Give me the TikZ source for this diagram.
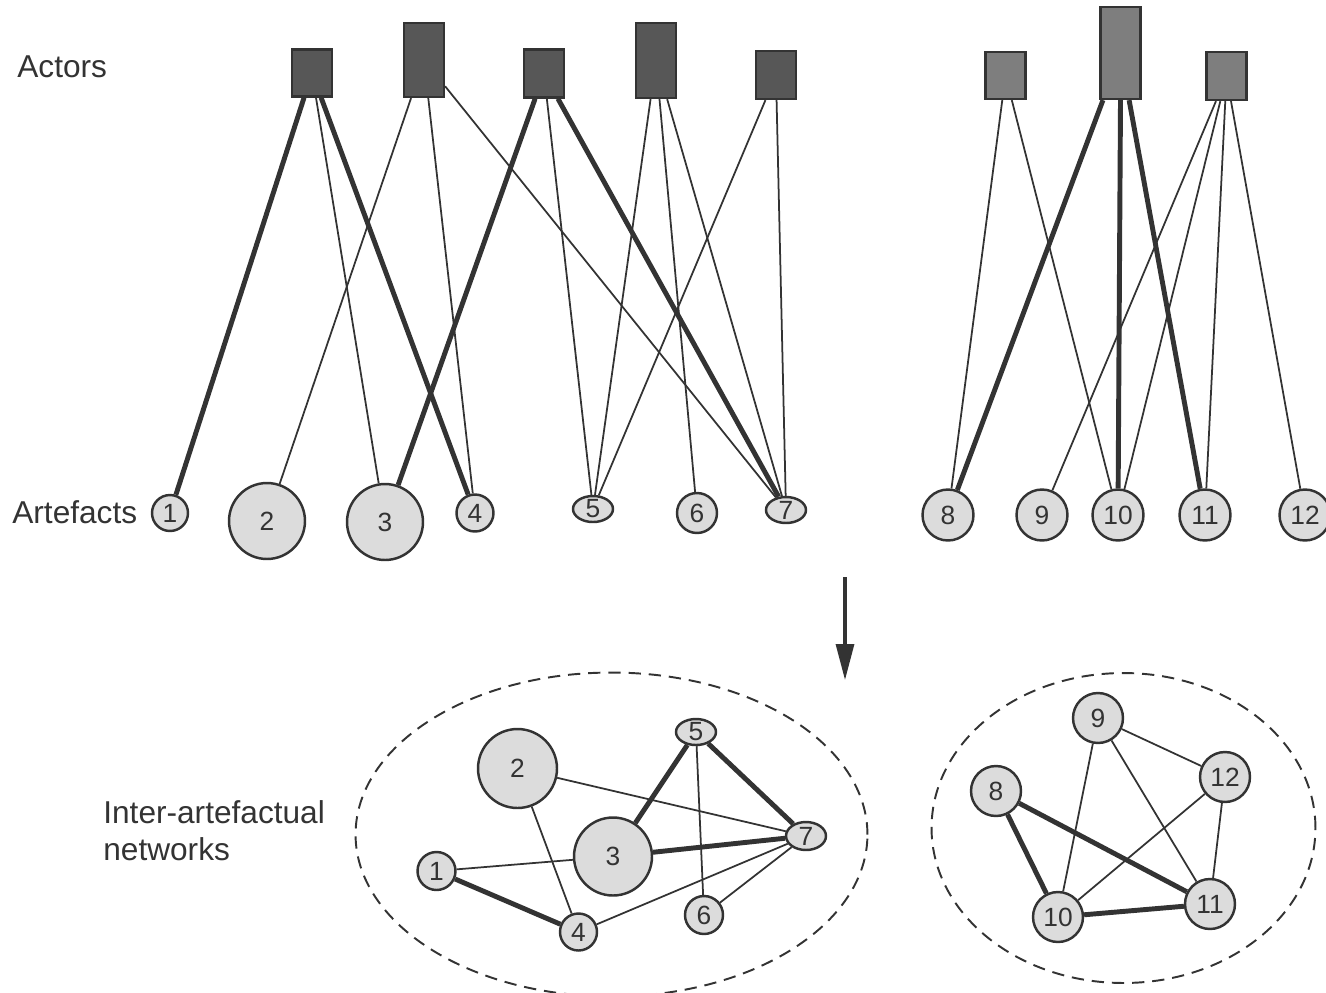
\documentclass[tikz,border=0pt]{standalone}
\usepackage{fontspec}
\setmainfont{Liberation Sans}
\usetikzlibrary{shapes.geometric,arrows.meta}

\definecolor{inkgray}{HTML}{333333}
\definecolor{actordark}{HTML}{575757}
\definecolor{actorlight}{HTML}{7E7E7E}
\definecolor{artfill}{HTML}{DCDCDC}

\tikzset{
  actor/.style={draw=inkgray, line width=1.3pt, inner sep=0pt, minimum width=0.8cm},
  artefact/.style={circle, draw=inkgray, fill=artfill, line width=1.4pt, inner sep=0pt,
    text=inkgray, font=\fontsize{15pt}{15pt}\selectfont},
  flatartefact/.style={artefact, ellipse, minimum width=0.8cm},
  caption/.style={inner sep=0pt, text=inkgray, font=\fontsize{18pt}{21pt}\selectfont},
  link/.style={draw=inkgray, line width=1pt},
  heavylink/.style={draw=inkgray, line width=2.8pt},
  groupline/.style={draw=inkgray, line width=1.1pt, dash pattern=on 7pt off 4.5pt}
}

\begin{document}
\begin{tikzpicture}[x=0.02cm, y=-0.02cm]
\useasboundingbox (0,0) rectangle (1326,992);

% Captions
\node[caption, anchor=base west] (actorstext) at (17,77) {Actors};
\node[caption, anchor=base west] (artefactstext) at (12,523) {Artefacts};
\node[caption, anchor=north west, align=left] (networkstext) at (103,800) {Inter-artefactual\\networks};

% Marking actors by boxes (height = weight)
\node[actor, fill=actordark, minimum height=0.94cm] (a1) at (312,73) {};
\node[actor, fill=actordark, minimum height=1.48cm] (a2) at (424,60) {};
\node[actor, fill=actordark, minimum height=0.96cm] (a3) at (544,73.5) {};
\node[actor, fill=actordark, minimum height=1.50cm] (a4) at (656,60.5) {};
\node[actor, fill=actordark, minimum height=0.96cm] (a5) at (776,75) {};
\node[actor, fill=actorlight, minimum height=0.94cm] (a6) at (1005.5,75.5) {};
\node[actor, fill=actorlight, minimum height=1.84cm] (a7) at (1120.5,53) {};
\node[actor, fill=actorlight, minimum height=0.96cm] (a8) at (1226.5,76) {};

% Marking artefacts by circles
\node[artefact, minimum size=0.72cm] (n1) at (170,513) {1};
\node[artefact, minimum size=1.52cm] (n2) at (267,521) {2};
\node[artefact, minimum size=1.52cm] (n3) at (385,522) {3};
\node[artefact, minimum size=0.74cm] (n4) at (475,513) {4};
\node[flatartefact, minimum height=0.5cm] (n5) at (593,509) {5};
\node[artefact, minimum size=0.8cm] (n6) at (697,513) {6};
\node[flatartefact, minimum height=0.52cm] (n7) at (786,510) {7};
\node[artefact, minimum size=1.02cm] (n8) at (948,515) {8};
\node[artefact, minimum size=1.02cm] (n9) at (1042,515) {9};
\node[artefact, minimum size=1.02cm] (n10) at (1118,515) {10};
\node[artefact, minimum size=1.02cm] (n11) at (1205,515) {11};
\node[artefact, minimum size=1.02cm] (n12) at (1305,515) {12};

% Drawing actor-artefact ties
\draw[heavylink] (a1) -- (n1);
\draw[link] (a1) -- (n3);
\draw[heavylink] (a1) -- (n4);
\draw[link] (a2) -- (n2);
\draw[link] (a2) -- (n4);
\draw[link] (a2) -- (n7);
\draw[heavylink] (a3) -- (n3);
\draw[link] (a3) -- (n5);
\draw[heavylink] (a3) -- (n7);
\draw[link] (a4) -- (n5);
\draw[link] (a4) -- (n6);
\draw[link] (a4) -- (n7);
\draw[link] (a5) -- (n5);
\draw[link] (a5) -- (n7);
\draw[link] (a6) -- (n8);
\draw[link] (a6) -- (n10);
\draw[heavylink] (a7) -- (n8);
\draw[heavylink] (a7.south) -- (n10);
\draw[heavylink] (a7) -- (n11);
\draw[link] (a8) -- (n9);
\draw[link] (a8) -- (n10);
\draw[link] (a8) -- (n11);
\draw[link] (a8) -- (n12);

% Drawing projection arrow
\coordinate (arrowtop) at (845,577);
\coordinate (arrowtip) at (845,680);
\draw[inkgray, line width=1.8pt, -{Triangle[length=0.72cm, width=0.36cm]}] (arrowtop) -- (arrowtip);

% Drawing network boundaries
\draw[groupline] (611.5,834.5) ellipse [x radius=5.12cm, y radius=3.24cm];
\draw[groupline] (1123.5,828) ellipse [x radius=3.84cm, y radius=3.1cm];

% Marking artefacts of the first network
\node[artefact, minimum size=0.76cm] (b1) at (436.5,871) {1};
\node[artefact, minimum size=1.58cm] (b2) at (517.5,768.5) {2};
\node[artefact, minimum size=1.56cm] (b3) at (613,856.5) {3};
\node[artefact, minimum size=0.74cm] (b4) at (578.5,932) {4};
\node[flatartefact, minimum height=0.46cm] (b5) at (696,732) {5};
\node[artefact, minimum size=0.76cm] (b6) at (704,915) {6};
\node[flatartefact, minimum height=0.56cm] (b7) at (806,836) {7};

% Marking artefacts of the second network
\node[artefact, minimum size=1.0cm] (b8) at (996,791) {8};
\node[artefact, minimum size=1.0cm] (b9) at (1098,718) {9};
\node[artefact, minimum size=1.0cm] (b10) at (1058,917) {10};
\node[artefact, minimum size=1.0cm] (b11) at (1210,904) {11};
\node[artefact, minimum size=1.0cm] (b12) at (1225,777) {12};

% Drawing artefact-artefact ties
\draw[link] (b1) -- (b3);
\draw[heavylink] (b1) -- (b4);
\draw[link] (b2) -- (b4);
\draw[link] (b2) -- (b7);
\draw[heavylink] (b3) -- (b5);
\draw[heavylink] (b3) -- (b7);
\draw[link] (b4) -- (b7);
\draw[heavylink] (b5) -- (b7);
\draw[link] (b5) -- (b6);
\draw[link] (b6) -- (b7);
\draw[heavylink] (b8) -- (b10);
\draw[heavylink] (b8) -- (b11);
\draw[heavylink] (b10) -- (b11);
\draw[link] (b9) -- (b10);
\draw[link] (b9) -- (b11);
\draw[link] (b9) -- (b12);
\draw[link] (b12) -- (b10);
\draw[link] (b12) -- (b11);
\end{tikzpicture}
\end{document}
